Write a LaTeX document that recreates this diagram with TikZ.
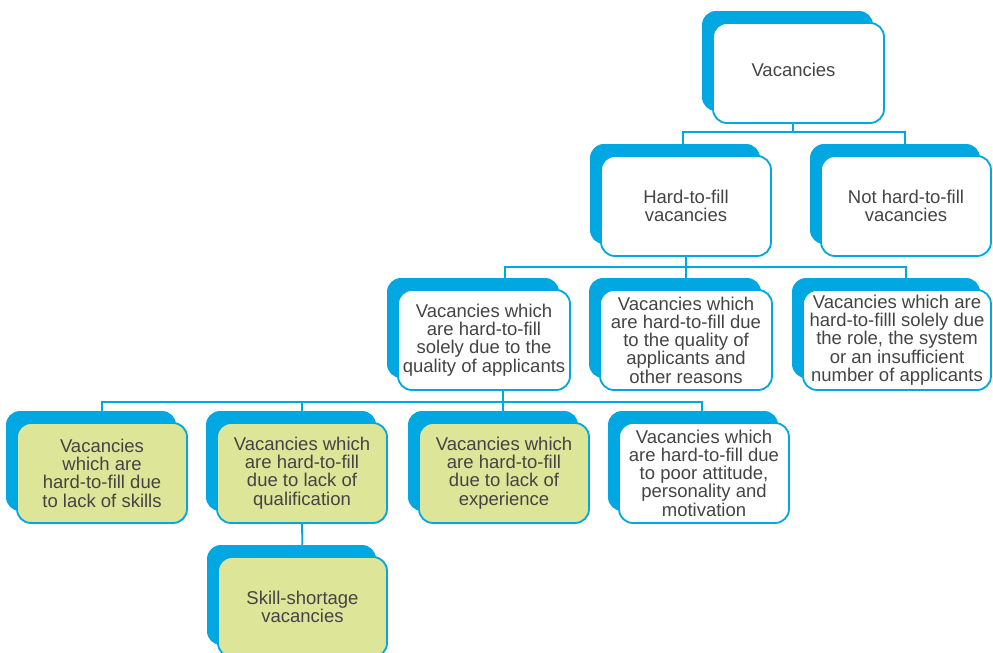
\documentclass[tikz,border=0pt]{standalone}
\usepackage{fontspec}
\setmainfont{Liberation Sans}
\usetikzlibrary{shadows,backgrounds}
\definecolor{vblue}{HTML}{00A7E1}
\definecolor{vgreen}{HTML}{DDE598}
\definecolor{vtext}{HTML}{444444}
\tikzset{
  vbox/.style={draw=vblue, line width=1.8pt, fill=white, rounded corners=14pt,
    minimum width=170pt, minimum height=100pt, inner sep=0pt, align=center,
    text=vtext, font=\fontsize{18.5}{18.3}\selectfont,
    general shadow={fill=vblue, shadow xshift=-11pt, shadow yshift=12pt}},
  gbox/.style={vbox, fill=vgreen},
  conn/.style={draw=vblue, line width=1.8pt},
}
\begin{document}
\begin{tikzpicture}[x=1pt,y=-1pt]
\useasboundingbox (0,0) rectangle (993,653);
\clip (0,0) rectangle (993,653);
% level 1
\node[vbox, minimum width=171pt] (vac) at (798.5,73) {Vacancies\hspace*{10pt}\rule[-6pt]{0pt}{0pt}};
% level 2
\node[vbox] (hard) at (686,206) {Hard-to-fill\\vacancies};
\node[vbox] (nothard) at (906,206) {Not hard-to-fill\\vacancies};
% level 3
\node[vbox, minimum width=172pt] (A) at (484,340) {Vacancies which\\are hard-to-fill\\solely due to the\\quality of applicants};
\node[vbox, minimum width=172pt] (B) at (686,340) {Vacancies which\\are hard-to-fill due\\to the quality of\\applicants and\\other reasons};
\node[vbox, minimum width=188pt] (C) at (897,340) {Vacancies which are\\hard-to-filll solely due\\the role, the system\\or an insufficient\\number of applicants};
% level 4
\node[gbox] (D) at (102,473) {Vacancies\\which are\\hard-to-fill due\\to lack of skills};
\node[gbox] (E) at (302,473) {Vacancies which\\are hard-to-fill\\due to lack of\\qualification};
\node[gbox] (F) at (504,473) {Vacancies which\\are hard-to-fill\\due to lack of\\experience};
\node[vbox] (G) at (704,473) {Vacancies which\\are hard-to-fill due\\to poor attitude,\\personality and\\motivation};
% level 5
\node[gbox, minimum width=169pt] (S) at (302.5,607) {Skill-shortage\\vacancies};
% connectors
\begin{pgfonlayer}{background}
\coordinate (j0) at (793,132);
\coordinate (j1l) at (683,132);
\coordinate (j1r) at (905,132);
\draw[conn] (vac.south -| j0) -- (j0);
\draw[conn] (hard.north -| j1l) -- (j1l) -- (j1r) -- (nothard.north -| j1r);
\coordinate (j2) at (686,267);
\coordinate (j2l) at (505,267);
\coordinate (j2r) at (906,267);
\draw[conn] (hard.south -| j2) -- (j2);
\draw[conn] (A.north -| j2l) -- (j2l) -- (j2r) -- (C.north -| j2r);
\draw[conn] (j2) -- (B.north -| j2);
\coordinate (j3) at (503,402);
\coordinate (j3l) at (102,402);
\coordinate (j3m) at (302,402);
\coordinate (j3r) at (702,402);
\draw[conn] (A.south -| j3) -- (j3);
\draw[conn] (D.north -| j3l) -- (j3l) -- (j3r) -- (G.north -| j3r);
\draw[conn] (j3m) -- (E.north -| j3m);
\draw[conn] (j3) -- (F.north -| j3);
\draw[conn] (E.south) -- (S.north);
\end{pgfonlayer}
\end{tikzpicture}
\end{document}
